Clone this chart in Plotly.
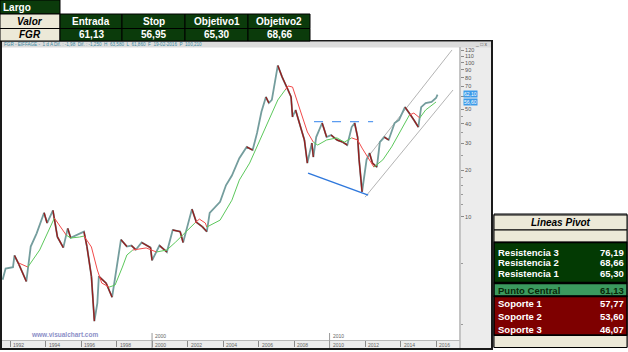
import math
import plotly.graph_objects as go

# ---------------- data ----------------
price_dates = [
    "1991-08", "1991-10", "1992-03", "1992-04", "1992-07", "1992-12", "1993-03", "1993-07",
    "1993-12", "1994-02", "1994-06", "1994-09", "1995-01", "1995-04", "1995-06", "1995-10",
    "1996-03", "1996-05", "1996-08", "1996-10", "1996-12", "1997-01", "1997-06", "1997-10",
    "1997-12", "1998-04", "1998-08", "1998-11", "1999-02", "1999-06", "1999-12", "2000-01",
    "2000-06", "2000-11", "2001-03", "2001-08", "2001-10", "2002-04", "2002-07", "2002-11",
    "2003-02", "2003-04", "2003-11", "2004-03", "2004-07", "2004-12", "2005-05", "2005-09",
    "2005-12", "2006-03", "2006-06", "2006-08", "2006-10", "2007-02", "2007-05", "2007-09",
    "2007-11", "2007-12", "2008-02", "2008-06", "2008-08", "2008-10", "2009-01", "2009-02",
    "2009-04", "2009-08", "2009-11", "2010-02", "2010-06", "2010-10", "2011-01", "2011-04",
    "2011-06", "2011-08", "2011-09", "2011-11", "2012-02", "2012-04", "2012-06", "2012-09",
    "2012-11", "2013-02", "2013-05", "2013-09", "2013-12", "2014-04", "2014-07", "2014-10",
    "2015-01", "2015-03", "2015-06", "2015-10", "2016-01", "2016-02",
]
price_close = [
    3.9, 4.6, 4.7, 5.6, 4.9, 3.8, 6.4, 7.8,
    10.6, 9.1, 11.0, 7.4, 6.3, 8.4, 7.3, 7.6,
    8.0, 6.4, 4.1, 2.1, 2.75, 4.1, 3.7, 3.0,
    4.1, 7.1, 6.4, 6.5, 6.1, 6.8, 6.3, 5.2,
    6.5, 5.9, 8.2, 8.0, 6.8, 11.2, 9.2, 8.6,
    8.0, 10.6, 12.5, 16.0, 18.5, 24.0, 28.4, 27.1,
    35.0, 48.0, 59.9, 54.7, 57.3, 96.0, 80.7, 66.5,
    59.9, 44.4, 49.3, 36.6, 31.5, 22.3, 30.1, 24.4,
    32.9, 40.6, 32.9, 33.9, 31.5, 30.5, 29.2, 38.2,
    40.6, 32.9, 23.4, 14.5, 23.4, 25.9, 22.3, 21.0,
    30.5, 32.9, 31.5, 40.6, 42.5, 51.5, 47.1, 42.5,
    38.2, 51.5, 54.7, 55.6, 59.0, 62.1,
]

ma_dates = [
    "1992-07", "1993-01", "1993-09", "1994-07", "1994-11", "1995-03", "1995-06", "1995-12",
    "1996-03", "1996-08", "1996-12", "1997-03", "1997-08", "1997-12", "1998-05", "1998-08",
    "1998-12", "1999-09", "2000-04", "2000-11", "2001-05", "2001-12", "2002-06", "2002-09",
    "2003-01", "2003-02", "2003-11", "2004-07", "2004-12", "2005-07", "2006-01", "2006-08",
    "2007-02", "2007-07", "2007-09", "2007-12", "2008-03", "2008-07", "2008-10", "2009-02",
    "2009-05", "2009-11", "2010-06", "2010-11", "2011-04", "2011-08", "2011-11", "2012-03",
    "2012-07", "2013-01", "2013-07", "2014-02", "2014-07", "2014-10", "2015-02", "2015-06",
    "2016-01",
]
ma_values = [
    5.0, 4.71, 6.08, 9.8, 8.57, 7.6, 7.27, 7.38,
    7.49, 6.36, 4.51, 3.71, 3.49, 3.60, 4.71, 5.64,
    6.08, 6.27, 5.90, 6.08, 6.85, 7.96, 9.1, 9.65,
    9.1, 8.57, 9.5, 12.8, 17.3, 22.3, 30.1, 42.5,
    57.3, 66.5, 70.6, 69.5, 57.3, 43.8, 35.5, 30.5,
    29.2, 31.5, 32.5, 30.5, 32.5, 31.5, 27.9, 24.4,
    21.0, 23.4, 28.4, 37.6, 45.7, 47.1, 43.8, 49.3,
    55.6,
]
# colour of the segment that starts at each point (G = rising, R = falling)
ma_trend = [
    "R", "G", "G", "R", "R", "G", "G", "G",
    "R", "R", "R", "R", "G", "G", "G", "G",
    "R", "R", "G", "G", "G", "G", "R", "R",
    "R", "G", "G", "G", "G", "G", "G", "G",
    "G", "R", "R", "R", "R", "R", "R", "G",
    "G", "G", "G", "G", "R", "R", "R", "R",
    "G", "G", "G", "G", "R", "R", "G", "G",
    "G",
]

support_dates = ["2008-10-15", "2012-03-05"]
support_values = [19.2, 13.8]
resist_dates = ["2009-02-15", "2012-06-15"]
resist_values = [41.4, 41.4]
chan_up_dates = ["2012-02-10", "2016-11-25"]
chan_up_values = [24.0, 121.0]
chan_lo_dates = ["2012-01-01", "2016-12-15"]
chan_lo_values = [13.4, 66.5]

last_price_label = "62,10"
last_price = 62.10
ma_last_label = "56,60"
ma_last = 56.60

x_tick_years = [1992, 1994, 1996, 1998, 2000, 2002, 2004, 2006, 2008, 2010, 2012, 2014, 2016]
decade_marks = [2000, 2010]
y_ticks = [10, 20, 30, 40, 50, 60, 70, 80, 90, 100, 110, 120]
y_tick_text = ["10", "20", "30", "40", "50", "", "70", "80", "90", "100", "110", "120"]
y_minor = [2, 5, 12, 14, 16, 18, 25, 35, 45]

top_header = ["Entrada", "Stop", "Objetivo1", "Objetivo2"]
top_values = ["61,13", "56,95", "65,30", "68,66"]
top_title = "Largo"
top_row_labels = ["Valor", "FGR"]

pivot_title = "Lineas Pivot"
pivot_res_labels = ["Resistencia 3", "Resistencia 2", "Resistencia 1"]
pivot_res_values = ["76,19", "68,66", "65,30"]
pivot_center_label = "Punto Central"
pivot_center_value = "61,13"
pivot_sup_labels = ["Soporte 1", "Soporte 2", "Soporte 3"]
pivot_sup_values = ["57,77", "53,60", "46,07"]

info_text = "FGR - EIFFAGE -  1 d A Dif. : -1,98  Dif. : -1,250  H  63,580  L  61,860  F  19-02-2016  P  100,210"

# ---------------- geometry ----------------
W, H = 628, 352
PL, PR, PT, PB = 2, 460, 48, 340
FONT = "Liberation Sans, Arial, sans-serif"

def fx(px):
    return (px - PL) / (PR - PL)

def fy(py):
    return (PB - py) / (PB - PT)

shapes = []
annotations = []

def rect(x0, y0, x1, y1, fill, line_color=None, lw=0, layer="above"):
    shapes.append(dict(type="rect", xref="paper", yref="paper",
                       x0=fx(x0), x1=fx(x1), y0=fy(y1), y1=fy(y0),
                       fillcolor=fill,
                       line=dict(color=line_color or fill, width=lw),
                       layer=layer))

def hline(x0, x1, y, color="black", w=1, layer="above"):
    shapes.append(dict(type="line", xref="paper", yref="paper",
                       x0=fx(x0), x1=fx(x1), y0=fy(y), y1=fy(y),
                       line=dict(color=color, width=w), layer=layer))

def vline(x, y0, y1, color="black", w=1, layer="above"):
    shapes.append(dict(type="line", xref="paper", yref="paper",
                       x0=fx(x), x1=fx(x), y0=fy(y0), y1=fy(y1),
                       line=dict(color=color, width=w), layer=layer))

def text(x, y, s, size=10, color="black", anchor="center", bold=True, italic=False):
    t = s
    if italic:
        t = "<i>" + t + "</i>"
    if bold:
        t = "<b>" + t + "</b>"
    annotations.append(dict(xref="paper", yref="paper", x=fx(x), y=fy(y), text=t,
                            showarrow=False, xanchor=anchor, yanchor="middle",
                            font=dict(family=FONT, size=size, color=color),
                            borderpad=0))

fig = go.Figure()

# channel lines
fig.add_trace(go.Scatter(x=chan_up_dates, y=chan_up_values, mode="lines",
                         line=dict(color="#b4b4b4", width=1), hoverinfo="skip"))
fig.add_trace(go.Scatter(x=chan_lo_dates, y=chan_lo_values, mode="lines",
                         line=dict(color="#b4b4b4", width=1), hoverinfo="skip"))

# price line (up moves teal-grey, down moves dark red)
fig.add_trace(go.Scatter(x=price_dates, y=price_close, mode="lines",
                         line=dict(color="#749d9d", width=1.8), hoverinfo="skip"))
red_x, red_y = [], []
for i in range(1, len(price_close)):
    if price_close[i] < price_close[i - 1]:
        red_x += [price_dates[i - 1], price_dates[i], None]
        red_y += [price_close[i - 1], price_close[i], None]
fig.add_trace(go.Scatter(x=red_x, y=red_y, mode="lines",
                         line=dict(color="#951e1e", width=1.4), hoverinfo="skip"))

# moving average, coloured by trend
colors = {"G": "#5cc85c", "R": "#f24a4a"}
i = 0
n = len(ma_dates)
while i < n - 1:
    c = ma_trend[i]
    j = i
    while j < n - 1 and ma_trend[j] == c:
        j += 1
    fig.add_trace(go.Scatter(x=ma_dates[i:j + 1], y=ma_values[i:j + 1], mode="lines",
                             line=dict(color=colors[c], width=1), hoverinfo="skip"))
    i = j

# support / resistance lines
fig.add_trace(go.Scatter(x=support_dates, y=support_values, mode="lines",
                         line=dict(color="#2f78dc", width=1.5), hoverinfo="skip"))
fig.add_trace(go.Scatter(x=resist_dates, y=resist_values, mode="lines",
                         line=dict(color="#5b9cf0", width=1.2, dash="dash"), hoverinfo="skip"))

# ---------- panels & frame ----------
rect(460, 47, 491, 348, "#ececec", layer="below")
rect(2, 340, 460, 348, "#ececec", layer="below")
rect(2, 41.5, 491, 47.5, "#dcdcdc", layer="below")
vline(460, 47, 348, "#c4c4c4", 2, layer="below")
hline(2, 460, 340.5, "#b8b8b8", 1, layer="below")
# window frame
rect(0, 40, 493, 41.5, "#1a1a1a")
rect(0, 40, 2, 350, "#1a1a1a")
rect(491, 40, 493, 350, "#1a1a1a")
rect(0, 348, 493, 350, "#1a1a1a")

text(3, 44.5, info_text, size=4.6, color="#3b8aa2", anchor="left", bold=False)
text(489, 44.5, "_ □ x", size=5, color="#555555", anchor="right", bold=False)

# decade markers & watermark
for yr in decade_marks:
    shapes.append(dict(type="line", xref="x", yref="paper", x0=f"{yr}-01-01", x1=f"{yr}-01-01",
                       y0=fy(348), y1=fy(333), line=dict(color="#9a9a9a", width=1), layer="above"))
    annotations.append(dict(xref="x", yref="paper", x=f"{yr}-01-01", y=fy(336), text=str(yr),
                            showarrow=False, xanchor="left", yanchor="middle", xshift=1,
                            font=dict(family=FONT, size=5, color="#666666")))
text(64, 334.5, "www.visualchart.com", size=6.5, color="#8c8fc8", anchor="center", bold=True)

# x tick labels
for yr in x_tick_years:
    annotations.append(dict(xref="x", yref="paper", x=f"{yr}-01-01", y=fy(344.5), text=str(yr),
                            showarrow=False, xanchor="left", yanchor="middle", xshift=1,
                            font=dict(family=FONT, size=5, color="#666666")))

# price boxes on the right axis
for lab, val, shift in [(last_price_label, last_price, 1), (ma_last_label, ma_last, -1)]:
    annotations.append(dict(xref="paper", yref="y", x=fx(463), y=math.log10(val), text=lab,
                            showarrow=False, xanchor="left", yanchor="middle", yshift=shift,
                            bgcolor="#3d9be9", borderpad=0,
                            font=dict(family=FONT, size=5, color="white")))

# ---------- top-left table ----------
GREEN = "#0b3b0b"
BEIGE = "#ece9d8"
cols = [0, 60, 122, 185, 248, 310]
rect(0, 0, 60, 14, GREEN, "black", 1)
text(2, 7.5, top_title, size=10, color="white", anchor="left")
rows = [(14, 28.5), (28.5, 41)]
for r, (y0, y1) in enumerate(rows):
    rect(cols[0], y0, cols[1], y1, BEIGE, "black", 1)
    text((cols[0] + cols[1]) / 2, (y0 + y1) / 2, top_row_labels[r], size=10, italic=True)
    vals = top_header if r == 0 else top_values
    for c in range(4):
        rect(cols[c + 1], y0, cols[c + 2], y1, GREEN, "black", 1)
        text((cols[c + 1] + cols[c + 2]) / 2, (y0 + y1) / 2, vals[c], size=10, color="white")

# ---------- pivot table ----------
TX0, TX1 = 494, 627
rect(TX0, 214, TX1, 347.5, "white", "black", 1)
rect(TX0, 215, TX1, 230, BEIGE, "black", 1)
text((TX0 + TX1) / 2, 222.5, pivot_title, size=10, italic=True)
rect(TX0, 230, TX1, 242, BEIGE, "black", 1)
rect(TX0, 242.5, TX1, 282.5, "#033a03", "black", 1.5)
for k, yy in enumerate([252, 262.5, 273]):
    text(TX0 + 3, yy, pivot_res_labels[k], size=9.5, color="white", anchor="left")
    text(TX1 - 2, yy, pivot_res_values[k], size=9.5, color="white", anchor="right")
rect(TX0, 283.5, TX1, 296, "#3b9a5e", "black", 1.5)
text(TX0 + 3, 290, pivot_center_label, size=9.5, color="#082808", anchor="left")
text(TX1 - 2, 290, pivot_center_value, size=9.5, color="#082808", anchor="right")
rect(TX0, 296.5, TX1, 335, "#7e0000", "black", 1.5)
for k, yy in enumerate([303.5, 316.5, 329]):
    text(TX0 + 3, yy, pivot_sup_labels[k], size=9.5, color="white", anchor="left")
    text(TX1 - 2, yy, pivot_sup_values[k], size=9.5, color="white", anchor="right")
rect(TX0, 335.5, TX1, 347.5, BEIGE, "black", 1)

# ---------- layout ----------
x0_date, x1_date = "1991-07-19", "2017-05-08"
fig.update_layout(
    width=W, height=H, autosize=False,
    margin=dict(l=PL, r=W - PR, t=PT, b=H - PB, pad=0),
    paper_bgcolor="white", plot_bgcolor="white",
    showlegend=False,
    shapes=shapes, annotations=annotations,
    xaxis=dict(type="date", range=[x0_date, x1_date], showgrid=False, zeroline=False,
               showticklabels=False, ticks="outside", ticklen=6, tickcolor="#8a8a8a",
               tickvals=[f"{y}-01-01" for y in x_tick_years], showline=False),
    yaxis=dict(type="log", range=[0.1994, 2.0955], side="right", showgrid=False,
               zeroline=False, tickvals=y_ticks, ticktext=y_tick_text,
               ticks="outside", ticklen=3, tickcolor="#8a8a8a",
               tickfont=dict(family=FONT, size=5.5, color="#555555"),
               minor=dict(tickvals=y_minor, ticks="outside", ticklen=2, tickcolor="#9a9a9a"),
               showline=False),
    hovermode=False,
)

fig.write_html("out.html", config={"displayModeBar": False, "staticPlot": True})
